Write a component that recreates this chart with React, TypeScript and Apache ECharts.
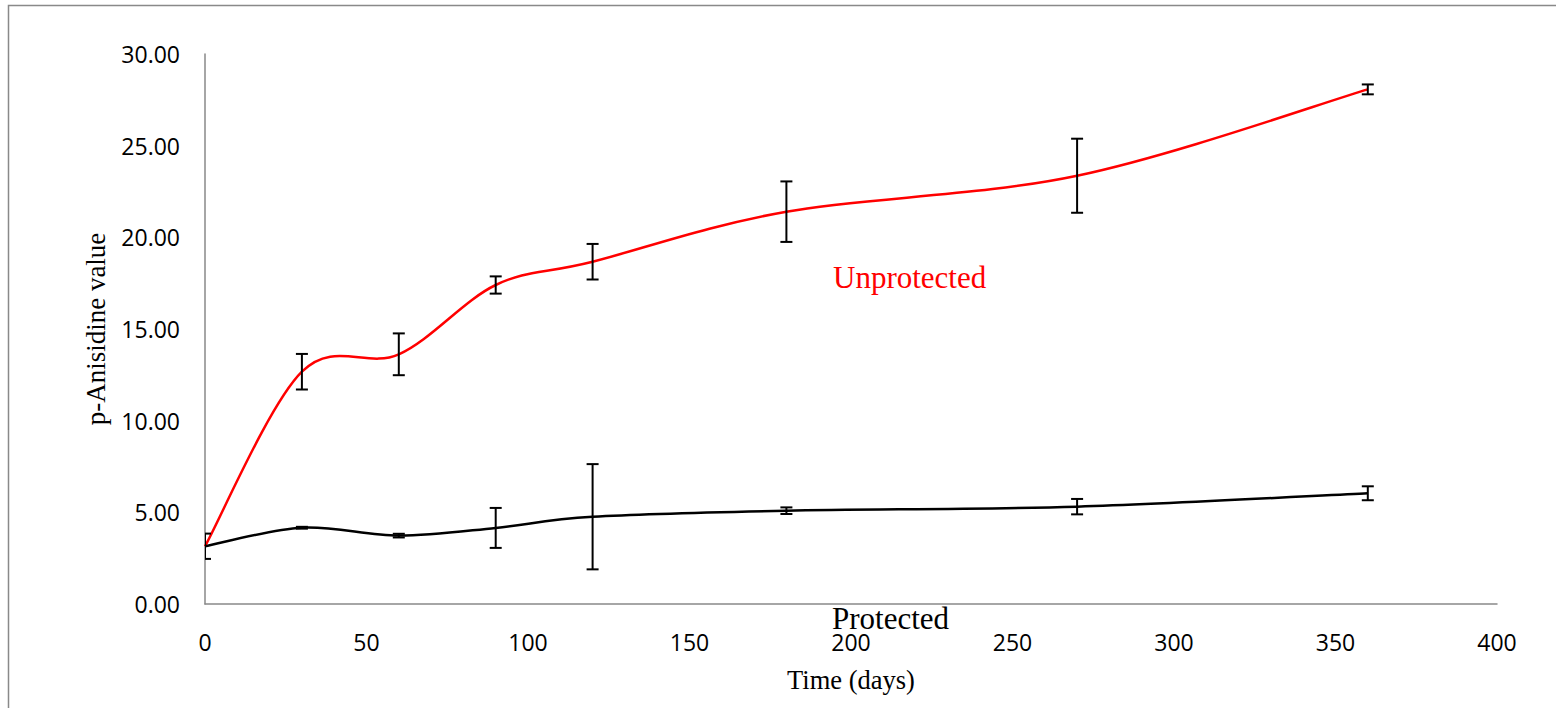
import React, { useEffect, useRef } from "react";
import * as echarts from "echarts";

const days = [0, 30, 60, 90, 120, 180, 270, 360];
const unprotected = [3.15, 12.67, 13.62, 17.4, 18.67, 21.4, 23.36, 28.07];
const unprotectedErr = [0, 0.97, 1.14, 0.47, 0.97, 1.65, 2.02, 0.27];
const protectedVals = [3.15, 4.16, 3.73, 4.15, 4.76, 5.09, 5.31, 6.04];
const protectedErr = [0.69, 0.05, 0.1, 1.09, 2.87, 0.18, 0.42, 0.38];
const yTicks = { min: 0, max: 30, interval: 5 };
const xTicks = { min: 0, max: 400, interval: 50 };

function errData(vals: number[], errs: number[]) {
  return days.map((d, i) => [d, vals[i] - errs[i], vals[i] + errs[i]]);
}

const renderErr = (params: any, api: any) => {
  const x = api.value(0);
  const lo = api.coord([x, api.value(1)]);
  const hi = api.coord([x, api.value(2)]);
  const cap = 6;
  const style = { stroke: "#000", lineWidth: 2 };
  return {
    type: "group",
    children: [
      { type: "line", shape: { x1: lo[0], y1: lo[1], x2: hi[0], y2: hi[1] }, style },
      { type: "line", shape: { x1: lo[0] - cap, y1: lo[1], x2: lo[0] + cap, y2: lo[1] }, style },
      { type: "line", shape: { x1: hi[0] - cap, y1: hi[1], x2: hi[0] + cap, y2: hi[1] }, style },
    ],
  };
};

// Excel-style smoothed line: cubic Bezier segments with Catmull-Rom tangents (1/6)
const makeSmooth = (vals: number[], color: string) => (params: any, api: any) => {
  const i = params.dataIndex;
  const n = vals.length;
  if (i >= n - 1) return null;
  const pt = (j: number) => {
    const k = Math.max(0, Math.min(n - 1, j));
    return api.coord([days[k], vals[k]]);
  };
  const p0 = pt(i - 1);
  const p1 = pt(i);
  const p2 = pt(i + 1);
  const p3 = pt(i + 2);
  const cp1 = [p1[0] + (p2[0] - p0[0]) / 6, p1[1] + (p2[1] - p0[1]) / 6];
  const cp2 = [p2[0] - (p3[0] - p1[0]) / 6, p2[1] - (p3[1] - p1[1]) / 6];
  return {
    type: "bezierCurve",
    shape: {
      x1: p1[0],
      y1: p1[1],
      x2: p2[0],
      y2: p2[1],
      cpx1: cp1[0],
      cpy1: cp1[1],
      cpx2: cp2[0],
      cpy2: cp2[1],
    },
    style: { stroke: color, lineWidth: 2.5, fill: "none" },
  };
};

export default function App() {
  const ref = useRef<HTMLDivElement>(null);
  useEffect(() => {
    if (!ref.current) return;
    const chart = echarts.init(ref.current, null, { renderer: "svg" });
    const axisLine = { show: true, lineStyle: { color: "#898989", width: 1.5 } };
    chart.setOption({
      animation: false,
      backgroundColor: "#fff",
      grid: { left: 205, right: 59, top: 54, bottom: 104 },
      xAxis: {
        type: "value",
        ...xTicks,
        axisLine,
        axisTick: { show: false },
        splitLine: { show: false },
        axisLabel: { color: "#000", fontFamily: "Open Sans", fontSize: 23, margin: 26 },
        name: "Time (days)",
        nameLocation: "middle",
        nameGap: 62,
        nameTextStyle: { color: "#000", fontFamily: "Liberation Serif", fontSize: 26.5 },
      },
      yAxis: {
        type: "value",
        ...yTicks,
        axisLine,
        axisTick: { show: false },
        splitLine: { show: false },
        axisLabel: {
          color: "#000",
          fontFamily: "Open Sans",
          fontSize: 23,
          margin: 25,
          formatter: (v: number) => v.toFixed(2),
        },
        name: "p-Anisidine value",
        nameLocation: "middle",
        nameGap: 96,
        nameTextStyle: { color: "#000", fontFamily: "Liberation Serif", fontSize: 27 },
      },
      graphic: [
        {
          type: "rect",
          shape: { x: 8.5, y: 5.5, width: 1600, height: 760 },
          style: { fill: "none", stroke: "#898989", lineWidth: 1.5 },
          silent: true,
          z: -1,
        },
        {
          type: "text",
          x: 833,
          y: 277,
          style: {
            text: "Unprotected",
            fill: "#FF0000",
            font: "31px 'Liberation Serif'",
            verticalAlign: "middle",
            align: "left",
          },
        },
        {
          type: "text",
          x: 832,
          y: 618,
          style: {
            text: "Protected",
            fill: "#000",
            font: "31px 'Liberation Serif'",
            verticalAlign: "middle",
            align: "left",
          },
        },
      ],
      series: [
        {
          name: "Unprotected",
          type: "custom",
          renderItem: makeSmooth(unprotected, "#FF0000"),
          data: days.map((d, i) => [d, unprotected[i]]),
          clip: false,
          z: 2,
        },
        {
          name: "Protected",
          type: "custom",
          renderItem: makeSmooth(protectedVals, "#000000"),
          data: days.map((d, i) => [d, protectedVals[i]]),
          clip: false,
          z: 2,
        },
        {
          type: "custom",
          renderItem: renderErr,
          clip: true,
          data: errData(unprotected, unprotectedErr).filter((_, i) => unprotectedErr[i] > 0),
          z: 3,
        },
        {
          type: "custom",
          renderItem: renderErr,
          clip: true,
          data: errData(protectedVals, protectedErr),
          z: 3,
        },
      ],
    });
    return () => chart.dispose();
  }, []);
  return (
    <div
      ref={ref}
      style={{ position: "fixed", left: 0, top: 0, width: 1556, height: 708, background: "#fff" }}
    />
  );
}
